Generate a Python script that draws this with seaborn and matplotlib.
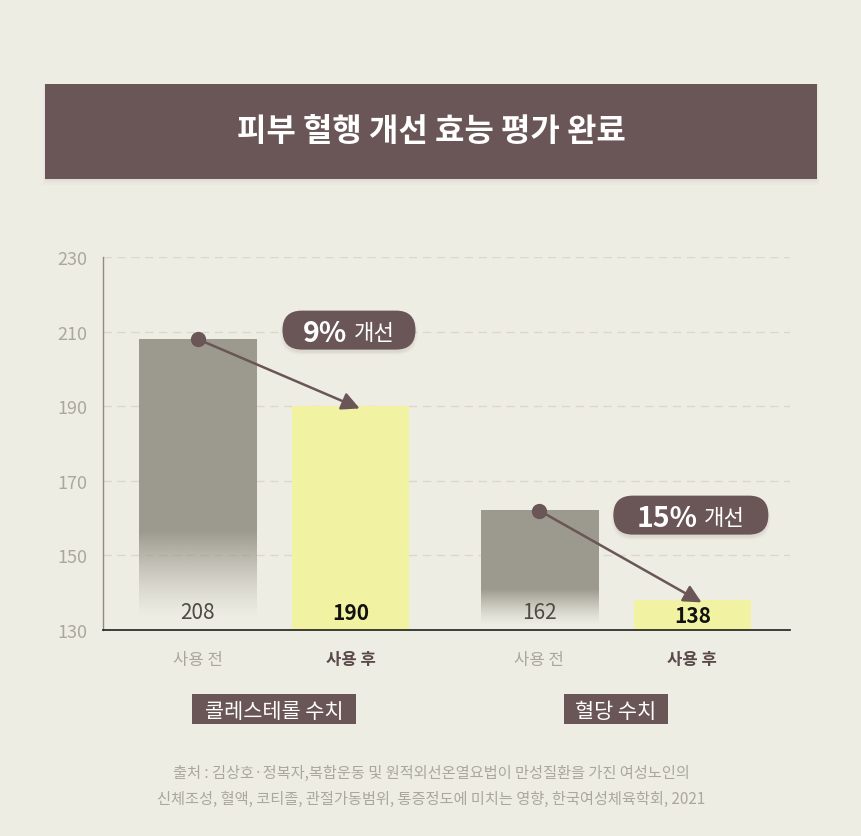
import numpy as np
import matplotlib.pyplot as plt
import seaborn as sns
from matplotlib.patches import FancyBboxPatch, Rectangle
from matplotlib.colors import to_rgb
from matplotlib.transforms import blended_transform_factory

# ---- data ----
title = "피부 혈행 개선 효능 평가 완료"
groups = ["콜레스테롤 수치", "혈당 수치"]
phases = ["사용 전", "사용 후"]
before_vals = [208, 162]
after_vals = [190, 138]
improve_pct = [9, 15]
y_ticks = [130, 150, 170, 190, 210, 230]
source_lines = [
    "출처 : 김상호·정복자,복합운동 및 원적외선온열요법이 만성질환을 가진 여성노인의",
    "신체조성, 혈액, 코티졸, 관절가동범위, 통증정도에 미치는 영향, 한국여성체육학회, 2021",
]

# ---- style ----
BG = "#eeede4"
BROWN = "#6a5656"
GRAY_BAR = "#9c9a8e"
YELLOW = "#f2f3a2"
TICK_GRAY = "#aaa89c"
GRID = "#dad8cc"

sns.set_theme(style="white")
plt.rcParams["font.family"] = ["Noto Sans CJK KR", "DejaVu Sans"]

W, H = 861, 837
fig = plt.figure(figsize=(W / 100, H / 100), dpi=100, facecolor=BG)


def fx(px):
    return px / W


def fy(py):
    return 1 - py / H


# title banner with a soft shadow
for i, a in enumerate([0.05, 0.04, 0.03]):
    fig.patches.append(Rectangle((fx(45 - i), fy(182 + 2 * i)), fx(772 + 2 * i), fy(85) - fy(182 + 2 * i),
                                 transform=fig.transFigure, color="#8a8070", alpha=a, lw=0))
fig.patches.append(Rectangle((fx(45), fy(180)), fx(772), fy(85) - fy(180),
                             transform=fig.transFigure, color=BROWN, lw=0))
fig.text(fx(431), fy(132), title, ha="center", va="center", color="white",
         fontsize=23, fontweight="bold")

ax = fig.add_axes([fx(103), fy(631), fx(790) - fx(103), fy(258) - fy(631)])
ax.set_facecolor(BG)

bar_w = 0.765
group_gap = 2.235
before_x = [g * group_gap for g in range(len(groups))]
after_x = [x + 1 for x in before_x]

ax.set_xlim(-0.618, 3.873)
ax.set_ylim(y_ticks[0], y_ticks[-1])

# grid
for t in y_ticks[1:]:
    ax.axhline(t, color=GRID, lw=1, ls=(0, (6, 4)), zorder=0)

# before bars: gray fading to background at the base
rgb = np.array(to_rgb(GRAY_BAR))
n = 256
frac = np.linspace(0, 1, n)[:, None]  # 0 = bottom, 1 = top
alpha = np.clip((frac - 0.04) / 0.30, 0, 1) ** 1.3
grad = np.zeros((n, 1, 4))
grad[..., :3] = rgb
grad[..., 3] = alpha
for x, v in zip(before_x, before_vals):
    ax.imshow(grad, extent=(x - bar_w / 2, x + bar_w / 2, y_ticks[0], v), origin="lower",
              aspect="auto", interpolation="bilinear", zorder=2)

# after bars
ax.bar(after_x, [v - y_ticks[0] for v in after_vals], bottom=y_ticks[0], width=bar_w,
       color=YELLOW, edgecolor="none", linewidth=0, zorder=2)

# value labels
for x, v in zip(before_x, before_vals):
    ax.text(x, 134.8, f"{v}", ha="center", va="center", fontsize=15, color="#4e4a44", zorder=4)
for x, v in zip(after_x, after_vals):
    ax.text(x, min(134.8, (v + y_ticks[0]) / 2), f"{v}", ha="center", va="center",
            fontsize=15, fontweight="bold", color="#111111", zorder=4)

# arrows + dots
for bx, bv, axx, av in zip(before_x, before_vals, after_x, after_vals):
    ax.annotate("", xy=(axx + 0.06, av - 0.6), xytext=(bx, bv),
                arrowprops=dict(arrowstyle="-|>,head_length=0.9,head_width=0.45", color=BROWN,
                                lw=1.8, shrinkA=0, shrinkB=0), zorder=5)
    ax.plot(bx, bv, "o", ms=10, color=BROWN, zorder=6)

# badges
badge_y = [210.4, 160.8]
badge_w = [133, 155]
badge_h = 39
renderer = fig.canvas.get_renderer()
for axx, by, pct, bw in zip(after_x, badge_y, improve_pct, badge_w):
    cx, cy = ax.transData.transform((axx - 0.01, by))
    for k, a in enumerate([0.05, 0.04, 0.03]):
        fig.patches.append(FancyBboxPatch(((cx - bw / 2 - k) / W, (cy - badge_h / 2 - 3 - k) / H),
                                          (bw + 2 * k) / W, (badge_h + 2 * k) / H,
                                          boxstyle="round,pad=0,rounding_size=0.024",
                                          mutation_aspect=W / H,
                                          transform=fig.transFigure, color="#5a4a3a", alpha=a, lw=0,
                                          zorder=6))
    fig.patches.append(FancyBboxPatch(((cx - bw / 2) / W, (cy - badge_h / 2) / H), bw / W, badge_h / H,
                                      boxstyle="round,pad=0,rounding_size=0.0226",
                                      mutation_aspect=W / H,
                                      transform=fig.transFigure, color=BROWN, lw=0, zorder=7))
    t1 = fig.text(0, cy / H, f"{pct}%", ha="left", va="center_baseline", fontsize=20.5,
                  fontweight="bold", color="white", zorder=8)
    t2 = fig.text(0, cy / H, "개선", ha="left", va="center_baseline", fontsize=16,
                  color="white", zorder=8)
    w1 = t1.get_window_extent(renderer).width
    w2 = t2.get_window_extent(renderer).width
    gap = 6
    start = cx - (w1 + gap + w2) / 2
    t1.set_x(start / W)
    t2.set_x((start + w1 + gap) / W)

# axes styling
ax.set_yticks(y_ticks)
ax.set_yticklabels([str(t) for t in y_ticks], fontsize=13, color=TICK_GRAY)
ax.tick_params(axis="y", length=0, pad=11)
ax.set_xticks([])
for s in ["top", "right"]:
    ax.spines[s].set_visible(False)
ax.spines["left"].set_color("#8e8c7e")
ax.spines["left"].set_linewidth(1)
ax.spines["bottom"].set_color("#1e1e1e")
ax.spines["bottom"].set_linewidth(1.2)
ax.spines["bottom"].set_zorder(5)

# phase labels under bars
tr = blended_transform_factory(ax.transData, ax.transAxes)
lab_y = (631 - 660) / 373
for x in before_x:
    ax.text(x, lab_y, phases[0], transform=tr, ha="center", va="center", fontsize=12,
            color=TICK_GRAY, clip_on=False)
for x in after_x:
    ax.text(x, lab_y, phases[1], transform=tr, ha="center", va="center", fontsize=12,
            fontweight="bold", color="#5a4a4a", clip_on=False)

# group label boxes
group_box_w = [164, 104]
for bx, axx, g, gw in zip(before_x, after_x, groups, group_box_w):
    cx, _ = ax.transData.transform(((bx + axx) / 2, 0))
    fig.patches.append(Rectangle(((cx - gw / 2) / W, fy(725)), gw / W, fy(695) - fy(725),
                                 transform=fig.transFigure, color=BROWN, lw=0))
    fig.text(cx / W, fy(710), g, ha="center", va="center_baseline", fontsize=15,
             color="white")

# source
for line, py in zip(source_lines, [773, 799]):
    fig.text(fx(431), fy(py), line, ha="center", va="center", fontsize=11, color=TICK_GRAY)

fig.savefig("out.png", dpi=100, facecolor=BG)
